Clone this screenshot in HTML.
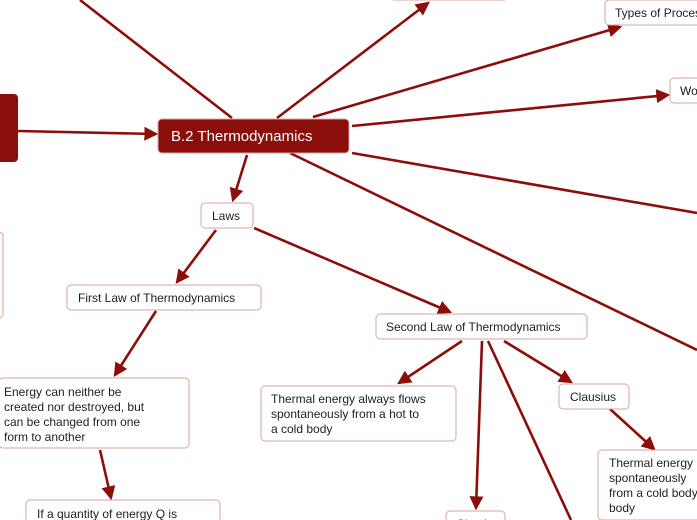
<!DOCTYPE html>
<html><head><meta charset="utf-8"><style>
html,body{margin:0;padding:0;background:#fff;}
svg{display:block;}
text{font-family:"Liberation Sans",sans-serif;font-size:12px;fill:#222;}
.b{fill:#fff;stroke:#d9a3a3;stroke-width:1;}
.l{stroke:#8b0e0b;stroke-width:2.6;fill:none;}
</style></head><body>
<svg width="697" height="520" viewBox="0 0 697 520" xmlns="http://www.w3.org/2000/svg">
<defs><marker id="a" markerWidth="14" markerHeight="14" refX="10" refY="6" orient="auto" markerUnits="userSpaceOnUse" viewBox="0 0 12 12"><path d="M0,0 L12,6 L0,12 z" fill="#8b0e0b"/></marker></defs>
<g class="l">
<line x1="80" y1="0" x2="232" y2="118"/>
<line x1="277" y1="118" x2="428" y2="3" marker-end="url(#a)"/>
<line x1="313" y1="117" x2="620" y2="27" marker-end="url(#a)"/>
<line x1="352" y1="126" x2="668" y2="95" marker-end="url(#a)"/>
<line x1="352" y1="153" x2="697" y2="213"/>
<line x1="290" y1="153" x2="697" y2="350"/>
<line x1="18" y1="131" x2="156" y2="134" marker-end="url(#a)"/>
<line x1="247" y1="155" x2="233" y2="200" marker-end="url(#a)"/>
<line x1="216" y1="230" x2="177" y2="282" marker-end="url(#a)"/>
<line x1="254" y1="228" x2="450" y2="312" marker-end="url(#a)"/>
<line x1="156" y1="311" x2="115" y2="375" marker-end="url(#a)"/>
<line x1="100" y1="450" x2="111" y2="498" marker-end="url(#a)"/>
<line x1="462" y1="341" x2="399" y2="383" marker-end="url(#a)"/>
<line x1="482" y1="341" x2="476" y2="508" marker-end="url(#a)"/>
<line x1="488" y1="341" x2="571" y2="520"/>
<line x1="504" y1="341" x2="571" y2="382" marker-end="url(#a)"/>
<line x1="610" y1="409" x2="654" y2="449" marker-end="url(#a)"/>
</g>
<rect x="-10" y="94" width="28" height="68" rx="4" fill="#8b0e0b"/>
<rect x="158" y="119" width="191" height="34" rx="4" fill="#8b0e0b" stroke="#d9a3a3"/>
<text x="171" y="141" style="fill:#fff;font-size:15px">B.2 Thermodynamics</text>
<rect class="b" x="390" y="-20" width="118" height="20" rx="4"/>
<rect class="b" x="605" y="0" width="110" height="25" rx="4"/>
<text x="615" y="17">Types of Process</text>
<rect class="b" x="670" y="78" width="40" height="25" rx="4"/>
<text x="680" y="95">Work</text>
<rect class="b" x="201" y="203" width="52" height="25" rx="4"/>
<text x="212" y="220">Laws</text>
<rect class="b" x="-10" y="232" width="13" height="86" rx="4"/>
<rect class="b" x="67" y="285" width="194" height="25" rx="4"/>
<text x="78" y="302">First Law of Thermodynamics</text>
<rect class="b" x="376" y="314" width="211" height="25" rx="4"/>
<text x="386" y="331">Second Law of Thermodynamics</text>
<rect class="b" x="-1" y="378" width="190" height="70" rx="4"/>
<text x="4" y="396">Energy can neither be</text>
<text x="4" y="411">created nor destroyed, but</text>
<text x="4" y="426">can be changed from one</text>
<text x="4" y="441">form to another</text>
<rect class="b" x="261" y="386" width="195" height="55" rx="4"/>
<text x="271" y="403">Thermal energy always flows</text>
<text x="271" y="418">spontaneously from a hot to</text>
<text x="271" y="433">a cold body</text>
<rect class="b" x="559" y="384" width="70" height="25" rx="4"/>
<text x="570" y="401">Clausius</text>
<rect class="b" x="598" y="450" width="120" height="70" rx="4"/>
<text x="609" y="467">Thermal energy</text>
<text x="609" y="482">spontaneously</text>
<text x="609" y="497">from a cold body</text>
<text x="609" y="512">body</text>
<rect class="b" x="26" y="500" width="194" height="40" rx="4"/>
<text x="37" y="518">If a quantity of energy Q is</text>
<rect class="b" x="446" y="511" width="59" height="25" rx="4"/>
<text x="456" y="528">Check</text>
</svg>
</body></html>
